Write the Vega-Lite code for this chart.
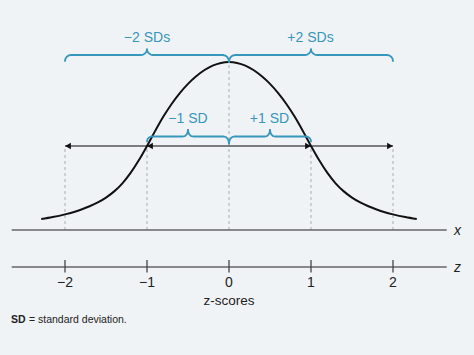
{
  "$schema": "https://vega.github.io/schema/vega-lite/v6.json",
  "width": 474,
  "height": 355,
  "padding": 0,
  "autosize": {"type": "none"},
  "background": "#f0f3f6",
  "config": {"view": {"stroke": null}, "text": {"font": "Liberation Sans"}},
  "datasets": {
    "curve": [
      {"z": -2.29, "y": 0.0262}, {"z": -2.15, "y": 0.0310}, {"z": -2.0, "y": 0.0375}, {"z": -1.9, "y": 0.0427},
      {"z": -1.8, "y": 0.0492}, {"z": -1.7, "y": 0.0569}, {"z": -1.6, "y": 0.0661}, {"z": -1.5, "y": 0.0778},
      {"z": -1.4, "y": 0.0927}, {"z": -1.3, "y": 0.1121}, {"z": -1.2, "y": 0.1371}, {"z": -1.1, "y": 0.1673},
      {"z": -1.0, "y": 0.2016}, {"z": -0.9, "y": 0.2379}, {"z": -0.8, "y": 0.2722}, {"z": -0.7, "y": 0.3024},
      {"z": -0.6, "y": 0.3286}, {"z": -0.5, "y": 0.3508}, {"z": -0.4, "y": 0.3689}, {"z": -0.2, "y": 0.3943},
      {"z": 0.0, "y": 0.4032},
      {"z": 0.2, "y": 0.3943}, {"z": 0.4, "y": 0.3689}, {"z": 0.5, "y": 0.3508}, {"z": 0.6, "y": 0.3286},
      {"z": 0.7, "y": 0.3024}, {"z": 0.8, "y": 0.2722}, {"z": 0.9, "y": 0.2379}, {"z": 1.0, "y": 0.2016},
      {"z": 1.1, "y": 0.1673}, {"z": 1.2, "y": 0.1371}, {"z": 1.3, "y": 0.1121}, {"z": 1.4, "y": 0.0927},
      {"z": 1.5, "y": 0.0778}, {"z": 1.6, "y": 0.0661}, {"z": 1.7, "y": 0.0569}, {"z": 1.8, "y": 0.0492},
      {"z": 1.9, "y": 0.0427}, {"z": 2.0, "y": 0.0375}, {"z": 2.15, "y": 0.0310}, {"z": 2.29, "y": 0.0262}
    ],
    "braces": [
      {"seg": "o1", "z": -2, "y": 0.4056}, {"seg": "o1", "z": -1.99443, "y": 0.41111}, {"seg": "o1", "z": -1.97856, "y": 0.41578}, {"seg": "o1", "z": -1.95481, "y": 0.4189}, {"seg": "o1", "z": -1.9268, "y": 0.42},
      {"seg": "o1", "z": -1.0732, "y": 0.42}, {"seg": "o1", "z": -1.04519, "y": 0.42104}, {"seg": "o1", "z": -1.02144, "y": 0.42401}, {"seg": "o1", "z": -1.00557, "y": 0.42846}, {"seg": "o1", "z": -1.0, "y": 0.4337},
      {"seg": "o2", "z": -1, "y": 0.4337}, {"seg": "o2", "z": -0.99443, "y": 0.42846}, {"seg": "o2", "z": -0.97856, "y": 0.42401}, {"seg": "o2", "z": -0.95481, "y": 0.42104}, {"seg": "o2", "z": -0.9268, "y": 0.42},
      {"seg": "o2", "z": -0.0732, "y": 0.42}, {"seg": "o2", "z": -0.04519, "y": 0.41872}, {"seg": "o2", "z": -0.02144, "y": 0.41508}, {"seg": "o2", "z": -0.00557, "y": 0.40963}, {"seg": "o2", "z": 0, "y": 0.4032},
      {"seg": "o3", "z": 0, "y": 0.4032}, {"seg": "o3", "z": 0.00557, "y": 0.40963}, {"seg": "o3", "z": 0.02144, "y": 0.41508}, {"seg": "o3", "z": 0.04519, "y": 0.41872}, {"seg": "o3", "z": 0.0732, "y": 0.42},
      {"seg": "o3", "z": 0.9268, "y": 0.42}, {"seg": "o3", "z": 0.95481, "y": 0.42104}, {"seg": "o3", "z": 0.97856, "y": 0.42401}, {"seg": "o3", "z": 0.99443, "y": 0.42846}, {"seg": "o3", "z": 1, "y": 0.4337},
      {"seg": "o4", "z": 1, "y": 0.4337}, {"seg": "o4", "z": 1.00557, "y": 0.42846}, {"seg": "o4", "z": 1.02144, "y": 0.42401}, {"seg": "o4", "z": 1.04519, "y": 0.42104}, {"seg": "o4", "z": 1.0732, "y": 0.42},
      {"seg": "o4", "z": 1.9268, "y": 0.42}, {"seg": "o4", "z": 1.95481, "y": 0.4189}, {"seg": "o4", "z": 1.97856, "y": 0.41578}, {"seg": "o4", "z": 1.99443, "y": 0.41111}, {"seg": "o4", "z": 2, "y": 0.4056},
      {"seg": "i1", "z": -1, "y": 0.2124}, {"seg": "i1", "z": -0.99536, "y": 0.21699}, {"seg": "i1", "z": -0.98213, "y": 0.22089}, {"seg": "i1", "z": -0.96234, "y": 0.22349}, {"seg": "i1", "z": -0.939, "y": 0.2244},
      {"seg": "i1", "z": -0.561, "y": 0.2244}, {"seg": "i1", "z": -0.53766, "y": 0.22559}, {"seg": "i1", "z": -0.51787, "y": 0.22897}, {"seg": "i1", "z": -0.50464, "y": 0.23403}, {"seg": "i1", "z": -0.5, "y": 0.24},
      {"seg": "i2", "z": -0.5, "y": 0.24}, {"seg": "i2", "z": -0.49536, "y": 0.23403}, {"seg": "i2", "z": -0.48213, "y": 0.22897}, {"seg": "i2", "z": -0.46234, "y": 0.22559}, {"seg": "i2", "z": -0.439, "y": 0.2244},
      {"seg": "i2", "z": -0.061, "y": 0.2244}, {"seg": "i2", "z": -0.03766, "y": 0.22312}, {"seg": "i2", "z": -0.01787, "y": 0.21948}, {"seg": "i2", "z": -0.00464, "y": 0.21403}, {"seg": "i2", "z": 0, "y": 0.2076},
      {"seg": "i3", "z": 0, "y": 0.2076}, {"seg": "i3", "z": 0.00464, "y": 0.21403}, {"seg": "i3", "z": 0.01787, "y": 0.21948}, {"seg": "i3", "z": 0.03766, "y": 0.22312}, {"seg": "i3", "z": 0.061, "y": 0.2244},
      {"seg": "i3", "z": 0.439, "y": 0.2244}, {"seg": "i3", "z": 0.46234, "y": 0.22559}, {"seg": "i3", "z": 0.48213, "y": 0.22897}, {"seg": "i3", "z": 0.49536, "y": 0.23403}, {"seg": "i3", "z": 0.5, "y": 0.24},
      {"seg": "i4", "z": 0.5, "y": 0.24}, {"seg": "i4", "z": 0.50464, "y": 0.23403}, {"seg": "i4", "z": 0.51787, "y": 0.22897}, {"seg": "i4", "z": 0.53766, "y": 0.22559}, {"seg": "i4", "z": 0.561, "y": 0.2244},
      {"seg": "i4", "z": 0.939, "y": 0.2244}, {"seg": "i4", "z": 0.96234, "y": 0.22349}, {"seg": "i4", "z": 0.98213, "y": 0.22089}, {"seg": "i4", "z": 0.99536, "y": 0.21699}, {"seg": "i4", "z": 1, "y": 0.2124}
    ],
    "dashes": [
      {"z": -2, "y": 0, "y2": 0.2016}, {"z": -1, "y": 0, "y2": 0.2016}, {"z": 0, "y": 0, "y2": 0.4}, {"z": 1, "y": 0, "y2": 0.2016}, {"z": 2, "y": 0, "y2": 0.2016}
    ],
    "hlines": [
      {"z": -2.65, "z2": 2.655, "y": 0}, {"z": -2.65, "z2": 2.655, "y": -0.0888}
    ],
    "arrowline": [{"z": -2, "z2": 2, "y": 0.2016}],
    "leftheads": [{"z": -2, "y": 0.2016}, {"z": -1, "y": 0.2016}],
    "rightheads": [{"z": 1, "y": 0.2016}, {"z": 2, "y": 0.2016}],
    "ticks": [
      {"z": -2, "y": -0.072, "y2": -0.102}, {"z": -1, "y": -0.072, "y2": -0.102}, {"z": 0, "y": -0.072, "y2": -0.102}, {"z": 1, "y": -0.072, "y2": -0.102}, {"z": 2, "y": -0.072, "y2": -0.102}
    ],
    "ticklabels": [
      {"z": -2, "y": -0.1279, "label": "−2"}, {"z": -1, "y": -0.1279, "label": "−1"}, {"z": 0, "y": -0.1279, "label": "0"}, {"z": 1, "y": -0.1279, "label": "1"}, {"z": 2, "y": -0.1279, "label": "2"}
    ],
    "bracelabels": [
      {"z": -1.0, "y": 0.4608, "label": "−2 SDs"}, {"z": 0.994, "y": 0.4608, "label": "+2 SDs"},
      {"z": -0.5, "y": 0.2657, "label": "−1 SD"}, {"z": 0.494, "y": 0.2657, "label": "+1 SD"}
    ],
    "axisnames": [{"z": 2.744, "y": -0.002, "label": "x"}, {"z": 2.744, "y": -0.09, "label": "z"}],
    "xtitle": [{"z": 0, "y": -0.1704, "label": "z-scores"}],
    "note1": [{"z": -2.659, "y": -0.2148, "label": "SD"}],
    "note2": [{"z": -2.659, "y": -0.2148, "label": "= standard deviation."}]
  },
  "encoding": {
    "x": {"field": "z", "type": "quantitative", "scale": {"domain": [-2.79268, 2.9878], "nice": false, "zero": false}, "axis": null},
    "y": {"field": "y", "type": "quantitative", "scale": {"domain": [-0.3, 0.552], "nice": false, "zero": false}, "axis": null}
  },
  "layer": [
    {"data": {"name": "dashes"}, "mark": {"type": "rule", "color": "#a9abad", "strokeWidth": 1, "strokeDash": [3, 3]}, "encoding": {"y2": {"field": "y2"}}},
    {"data": {"name": "hlines"}, "mark": {"type": "rule", "color": "#666666", "strokeWidth": 1.3}, "encoding": {"x2": {"field": "z2"}}},
    {"data": {"name": "ticks"}, "mark": {"type": "rule", "color": "#444444", "strokeWidth": 1.3}, "encoding": {"y2": {"field": "y2"}}},
    {"data": {"name": "arrowline"}, "mark": {"type": "rule", "color": "#555555", "strokeWidth": 1.3}, "encoding": {"x2": {"field": "z2"}}},
    {"data": {"name": "leftheads"}, "mark": {"type": "point", "shape": "triangle-left", "filled": true, "color": "#111111", "size": 45, "opacity": 1, "xOffset": 3}},
    {"data": {"name": "rightheads"}, "mark": {"type": "point", "shape": "triangle-right", "filled": true, "color": "#111111", "size": 45, "opacity": 1, "xOffset": -3}},
    {"data": {"name": "curve"}, "mark": {"type": "line", "color": "#111111", "strokeWidth": 2, "interpolate": "monotone"}},
    {"data": {"name": "braces"}, "mark": {"type": "line", "color": "#3796bb", "strokeWidth": 1.8, "strokeCap": "round", "strokeJoin": "round"}, "encoding": {"detail": {"field": "seg"}}},
    {"data": {"name": "bracelabels"}, "mark": {"type": "text", "color": "#3796bb", "fontSize": 14, "baseline": "middle"}, "encoding": {"text": {"field": "label"}}},
    {"data": {"name": "ticklabels"}, "mark": {"type": "text", "color": "#222222", "fontSize": 14, "baseline": "middle"}, "encoding": {"text": {"field": "label"}}},
    {"data": {"name": "xtitle"}, "mark": {"type": "text", "color": "#222222", "fontSize": 13.5, "baseline": "middle"}, "encoding": {"text": {"field": "label"}}},
    {"data": {"name": "axisnames"}, "mark": {"type": "text", "color": "#222222", "fontSize": 14, "fontStyle": "italic", "baseline": "middle", "align": "left"}, "encoding": {"text": {"field": "label"}}},
    {"data": {"name": "note1"}, "mark": {"type": "text", "color": "#222222", "fontSize": 10.5, "fontWeight": "bold", "baseline": "middle", "align": "left"}, "encoding": {"text": {"field": "label"}}},
    {"data": {"name": "note2"}, "mark": {"type": "text", "color": "#222222", "fontSize": 10.5, "baseline": "middle", "align": "left", "dx": 18}, "encoding": {"text": {"field": "label"}}}
  ]
}
